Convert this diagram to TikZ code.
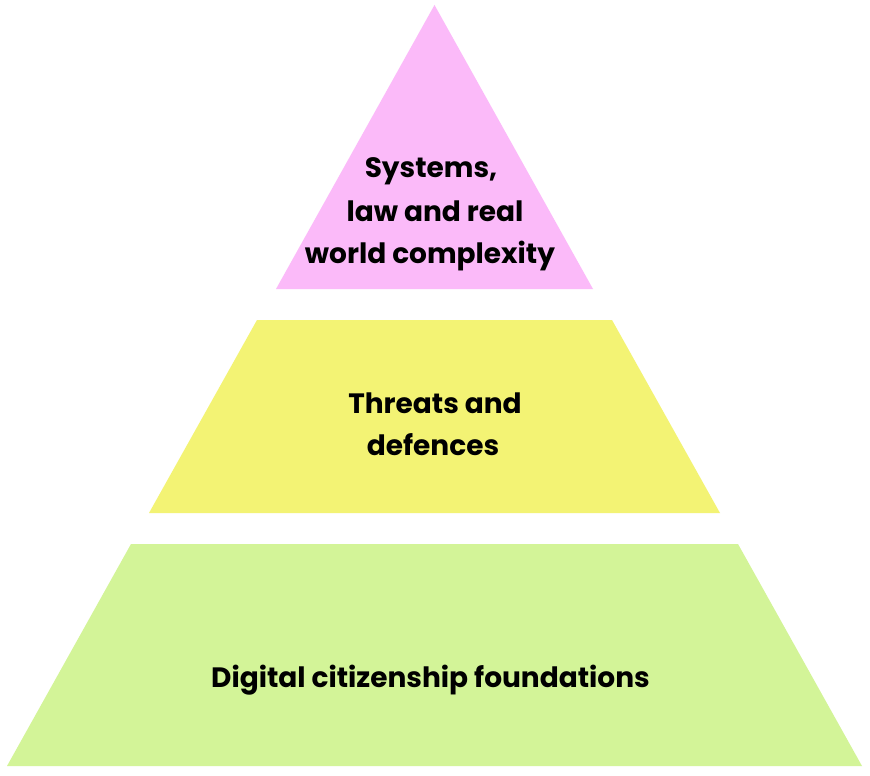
\documentclass[tikz,border=0pt]{standalone}
\usepackage{fontspec}
\setmainfont{Poppins}
\definecolor{toppink}{HTML}{FBBAF9}
\definecolor{midyellow}{HTML}{F3F374}
\definecolor{basegreen}{HTML}{D3F498}
\begin{document}
\begin{tikzpicture}[x=1pt,y=-1pt,
  label/.style={anchor=base,inner sep=0pt,font=\bfseries\fontsize{28}{34}\selectfont,text=black}]
\useasboundingbox (0,0) rectangle (870,776);
\fill[white] (0,0) rectangle (870,776);
% tiers
\fill[toppink] (434.5,5) -- (593,289) -- (276,289) -- cycle;
\fill[midyellow] (257,320) -- (612,320) -- (720,513) -- (149,513) -- cycle;
\fill[basegreen] (131,544) -- (738,544) -- (862,766) -- (7,766) -- cycle;
% labels
\node[label] (t1) at (431,177) {Systems,};
\node[label] (t2) at (435,221) {law and real};
\node[label] (t3) at (430,263) {world complexity};
\node[label] (m1) at (435,413) {Threats and};
\node[label] (m2) at (433,455) {defences};
\node[label] (b1) at (430.5,687) {Digital citizenship foundations};
\end{tikzpicture}
\end{document}
